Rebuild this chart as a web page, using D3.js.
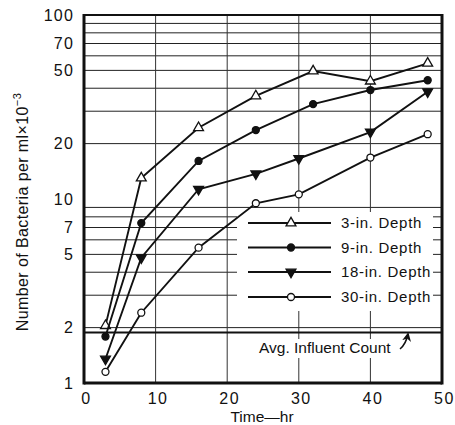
<!DOCTYPE html>
<html>
<head>
<meta charset="utf-8">
<script src="https://cdn.jsdelivr.net/npm/d3@7"></script>
<style>
    body { margin: 0; background: #fff; }
    text { font-family: "Liberation Sans", Arial, sans-serif; fill: #111; }
</style>
</head>
<body>
<svg id="bacteria-chart"></svg>
<script>
const width = 455, height = 425
const margin = {
    top: 15,
    bottom: 42,
    left: 84,
    right: 13,
}

// data
const hours3 = [3, 8, 16, 24, 32, 40, 48]
const depth3 = [2.05, 13, 24.4, 36.3, 49.6, 43.7, 54.6]
const hours9 = [3, 8, 16, 24, 32, 40, 48]
const depth9 = [1.79, 7.4, 16.1, 23.7, 32.8, 39.1, 44.2]
const hours18 = [3, 8, 16, 24, 30, 40, 48]
const depth18 = [1.35, 4.8, 11.3, 13.7, 16.6, 23.1, 38.3]
const hours30 = [3, 8, 16, 24, 30, 40, 48]
const depth30 = [1.15, 2.41, 5.44, 9.48, 10.6, 16.8, 22.5]
const influentCount = 1.88

const seriesNames = ["3-in. Depth", "9-in. Depth", "18-in. Depth", "30-in. Depth"]
const xTickValues = [0, 10, 20, 30, 40, 50]
const yTickValues = [1, 2, 5, 7, 10, 20, 50, 70, 100]
const xGridValues = [10, 20, 30, 40]
const yGridValues = [2, 3, 4, 5, 6, 7, 8, 9, 20, 30, 40, 50, 60, 70, 80, 90]

const series = [
    { name: seriesNames[0], xs: hours3, ys: depth3, marker: "up", fill: "#fff" },
    { name: seriesNames[1], xs: hours9, ys: depth9, marker: "circle", fill: "#111" },
    { name: seriesNames[2], xs: hours18, ys: depth18, marker: "down", fill: "#111" },
    { name: seriesNames[3], xs: hours30, ys: depth30, marker: "circle", fill: "#fff" },
]

const svg = d3.select("svg#bacteria-chart")
    .attr("viewBox", [0, 0, width, height])
    .attr("width", width)
    .attr("height", height)
    .style("background", "#ffffff")

const xScale = d3.scaleLinear()
    .domain([0, 50])
    .range([margin.left, width - margin.right])

const yScale = d3.scaleLog()
    .domain([1, 100])
    .range([height - margin.bottom, margin.top])

// grid
svg.append("g").selectAll("line.grid-y")
    .data(yGridValues)
    .join("line").attr("class", "grid-y")
    .attr("x1", xScale(0)).attr("x2", xScale(50))
    .attr("y1", d => yScale(d)).attr("y2", d => yScale(d))
    .attr("stroke", "#222").attr("stroke-width", 1)

svg.append("g").selectAll("line.grid-x")
    .data(xGridValues)
    .join("line").attr("class", "grid-x")
    .attr("x1", d => xScale(d)).attr("x2", d => xScale(d))
    .attr("y1", yScale(1)).attr("y2", yScale(100))
    .attr("stroke", "#333").attr("stroke-width", 1)

// average influent line
svg.append("line")
    .attr("x1", xScale(0)).attr("x2", xScale(50))
    .attr("y1", yScale(influentCount)).attr("y2", yScale(influentCount))
    .attr("stroke", "#111").attr("stroke-width", 2)

// legend background hides grid
svg.append("rect")
    .attr("x", 237).attr("y", 212)
    .attr("width", 196).attr("height", 99)
    .attr("fill", "#fff")

// annotation
const note = svg.append("g")
note.append("rect")
    .attr("x", 256).attr("y", 339)
    .attr("width", 142).attr("height", 19)
    .attr("fill", "#fff")
note.append("text")
    .attr("x", 259).attr("y", 353)
    .attr("font-size", 15.5)
    .text("Avg. Influent Count")

svg.append("defs").append("marker")
    .attr("id", "arrowhead")
    .attr("viewBox", "0 0 10 10")
    .attr("refX", 8).attr("refY", 5)
    .attr("markerWidth", 6).attr("markerHeight", 6)
    .attr("orient", "auto")
    .append("path")
    .attr("d", "M0,0 L10,5 L0,10 L3,5 Z")
    .attr("fill", "#111")

note.append("path")
    .attr("d", "M400,349 Q406,344 408,334")
    .attr("fill", "none")
    .attr("stroke", "#111")
    .attr("stroke-width", 1.5)
    .attr("marker-end", "url(#arrowhead)")

// frame
const x0 = xScale(0), x1 = xScale(50), y0 = yScale(1), y1 = yScale(100)
svg.append("line").attr("x1", x0).attr("x2", x1).attr("y1", y1).attr("y2", y1)
    .attr("stroke", "#111").attr("stroke-width", 2)
svg.append("line").attr("x1", x0).attr("x2", x1).attr("y1", y0).attr("y2", y0)
    .attr("stroke", "#111").attr("stroke-width", 3)
svg.append("line").attr("x1", x0).attr("x2", x0).attr("y1", y1 - 1).attr("y2", y0 + 1.5)
    .attr("stroke", "#111").attr("stroke-width", 3)
svg.append("line").attr("x1", x1).attr("x2", x1).attr("y1", y1 - 1).attr("y2", y0 + 1.5)
    .attr("stroke", "#111").attr("stroke-width", 3)

// tick labels
svg.append("g").selectAll("text.x-tick")
    .data(xTickValues)
    .join("text").attr("class", "x-tick")
    .attr("x", d => xScale(d) + 2.5)
    .attr("y", 404)
    .attr("text-anchor", "middle")
    .attr("font-size", 16)
    .attr("letter-spacing", 1.5)
    .text(d => d)

svg.append("g").selectAll("text.y-tick")
    .data(yTickValues)
    .join("text").attr("class", "y-tick")
    .attr("x", 74)
    .attr("y", d => yScale(d))
    .attr("dy", "0.36em")
    .attr("text-anchor", "end")
    .attr("font-size", 16)
    .attr("letter-spacing", 1.2)
    .text(d => d)

// axis titles
svg.append("text")
    .attr("x", 262).attr("y", 422)
    .attr("text-anchor", "middle")
    .attr("font-size", 15.5)
    .text("Time\u2014hr")

const yTitle = svg.append("text")
    .attr("transform", "translate(28,212) rotate(-90)")
    .attr("text-anchor", "middle")
    .attr("font-size", 16)
    .attr("letter-spacing", 0.4)
yTitle.append("tspan").text("Number of Bacteria per ml\u00d710")
yTitle.append("tspan")
    .attr("dy", -7)
    .attr("font-size", 11)
    .text("\u22123")

// series
const line = d3.line()
    .x(d => xScale(d[0]))
    .y(d => yScale(d[1]))

function drawMarker(g, type, fill, x, y) {
    if (type === "circle") {
        g.append("circle")
            .attr("cx", x).attr("cy", y).attr("r", 3.5)
            .attr("fill", fill).attr("stroke", "#111").attr("stroke-width", 1.3)
    } else {
        g.append("path")
            .attr("d", d3.symbol(d3.symbolTriangle, 42)())
            .attr("transform", `translate(${x},${y}) rotate(${type === "down" ? 180 : 0})`)
            .attr("fill", fill).attr("stroke", "#111").attr("stroke-width", 1.3)
    }
}

series.forEach(s => {
    const pts = s.xs.map((x, i) => [x, s.ys[i]])
    const g = svg.append("g").attr("class", "series")
    g.append("path")
        .attr("d", line(pts))
        .attr("fill", "none")
        .attr("stroke", "#111")
        .attr("stroke-width", 1.9)
    pts.forEach(p => drawMarker(g, s.marker, s.fill, xScale(p[0]), yScale(p[1])))
})

// legend
const legendY = [223, 247.5, 272, 297]
series.forEach((s, i) => {
    const g = svg.append("g").attr("class", "legend")
    g.append("line")
        .attr("x1", 248).attr("x2", 331)
        .attr("y1", legendY[i]).attr("y2", legendY[i])
        .attr("stroke", "#111").attr("stroke-width", 1.9)
    drawMarker(g, s.marker, s.fill, 291, legendY[i])
    g.append("text")
        .attr("x", 341).attr("y", legendY[i] + 5)
        .attr("font-size", 15)
        .attr("letter-spacing", 0.7)
        .text(s.name)
})
</script>
</body>
</html>
